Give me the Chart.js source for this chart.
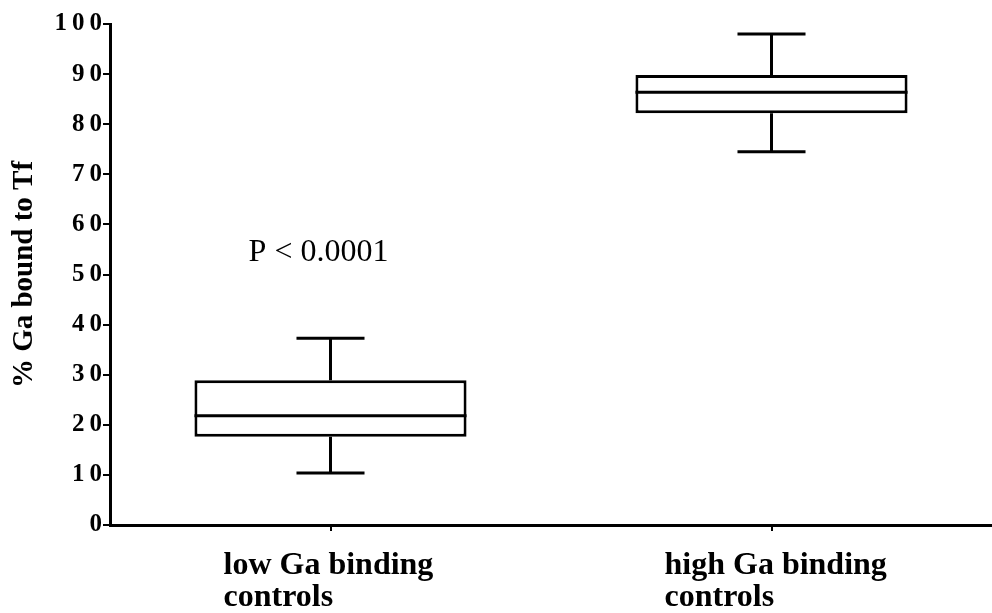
<!DOCTYPE html>
<html>
<head>
<meta charset="utf-8">
<script src="https://cdn.jsdelivr.net/npm/chart.js@4.4.1/dist/chart.umd.min.js"></script>
<style>
  html, body { margin: 0; padding: 0; background: #fff; }
  #wrap { width: 992px; height: 613px; position: relative; }
</style>
</head>
<body>
<div id="wrap"><canvas id="boxChart"></canvas></div>
<script>
// groups and their box-and-whisker summaries (% Ga bound to Tf)
const categories = [['low Ga binding', 'controls'], ['high Ga binding', 'controls']];
const whiskerLow = [10.4, 74.5];
const quartile1 = [17.6, 82.2];
const medians = [21.8, 86.4];
const quartile3 = [28.9, 89.8];
const whiskerHigh = [37.3, 98.0];
const yTicks = [0, 10, 20, 30, 40, 50, 60, 70, 80, 90, 100];

const pNote = { text: 'P < 0.0001', group: 0, value: 52.7 };

const serif = '"Liberation Serif", "Times New Roman", serif';

// median line, whiskers and caps drawn on top of the floating bars
const boxPlotExtras = {
    id: 'boxPlotExtras',
    afterDatasetsDraw(chart) {
        const ctx = chart.ctx;
        const y = chart.scales.y;
        const meta = chart.getDatasetMeta(0);
        ctx.save();
        ctx.strokeStyle = '#000';
        ctx.lineWidth = 3;
        ctx.lineCap = 'butt';
        meta.data.forEach(function (bar, i) {
            const half = bar.width / 2;
            const cap = bar.width * 0.125;
            const yMed = y.getPixelForValue(medians[i]);
            const yQ1 = y.getPixelForValue(quartile1[i]);
            const yQ3 = y.getPixelForValue(quartile3[i]);
            const yLo = y.getPixelForValue(whiskerLow[i]);
            const yHi = y.getPixelForValue(whiskerHigh[i]);

            ctx.beginPath();
            ctx.moveTo(bar.x - half, yMed);
            ctx.lineTo(bar.x + half, yMed);
            // upper whisker
            ctx.moveTo(bar.x, yQ3);
            ctx.lineTo(bar.x, yHi);
            ctx.moveTo(bar.x - cap, yHi);
            ctx.lineTo(bar.x + cap, yHi);
            // lower whisker
            ctx.moveTo(bar.x, yQ1);
            ctx.lineTo(bar.x, yLo);
            ctx.moveTo(bar.x - cap, yLo);
            ctx.lineTo(bar.x + cap, yLo);
            ctx.stroke();
        });

        // significance note
        const x = chart.scales.x.getPixelForValue(pNote.group);
        ctx.fillStyle = '#000';
        ctx.font = '32px ' + serif;
        ctx.textAlign = 'center';
        ctx.textBaseline = 'alphabetic';
        ctx.fillText(pNote.text, x - 12, y.getPixelForValue(pNote.value));
        ctx.restore();
    }
};

const ctx = document.getElementById('boxChart').getContext('2d');
new Chart(ctx, {
    type: 'bar',
    data: {
        labels: categories,
        datasets: [{
            data: quartile1.map((q, i) => [q, quartile3[i]]),
            backgroundColor: '#fff',
            borderColor: '#000',
            borderWidth: 3,
            borderSkipped: false,
            barPercentage: 0.617,
            categoryPercentage: 1
        }]
    },
    options: {
        responsive: true,
        maintainAspectRatio: false,
        animation: false,
        layout: { padding: { top: 24, right: 0, left: 0, bottom: 0 } },
        plugins: {
            legend: { display: false },
            tooltip: { enabled: false }
        },
        scales: {
            x: {
                offset: true,
                afterFit: function (scale) {
                    // labels are shifted left, so no extra side room is needed
                    scale.height = 88;
                    scale.paddingLeft = 0;
                    scale.paddingRight = 0;
                },
                grid: {
                    offset: false,
                    drawOnChartArea: false,
                    drawTicks: true,
                    tickLength: 6,
                    color: '#000',
                    lineWidth: 2
                },
                border: { display: true, color: '#000', width: 3 },
                ticks: {
                    color: '#000',
                    align: 'start',
                    labelOffset: -107,
                    padding: 19,
                    maxRotation: 0,
                    font: { family: serif, size: 32, weight: 'bold', lineHeight: 1.0 }
                }
            },
            y: {
                min: 0,
                max: 100,
                afterFit: function (scale) { scale.width = 110; },
                afterBuildTicks: function (scale) {
                    scale.ticks = yTicks.map(v => ({ value: v }));
                },
                grid: {
                    drawOnChartArea: false,
                    drawTicks: true,
                    tickLength: 7,
                    color: '#000',
                    lineWidth: 2
                },
                border: { display: true, color: '#000', width: 3 },
                ticks: {
                    color: '#000',
                    padding: 1,
                    font: { family: serif, size: 25, weight: 'bold' },
                    callback: function (value) {
                        return String(value).split('').join('\u2009');
                    }
                },
                title: {
                    display: true,
                    text: '% Ga bound to Tf',
                    color: '#000',
                    padding: { top: 7, bottom: 0 },
                    font: { family: serif, size: 29, weight: 'bold' }
                }
            }
        }
    },
    plugins: [boxPlotExtras]
});
</script>
</body>
</html>
